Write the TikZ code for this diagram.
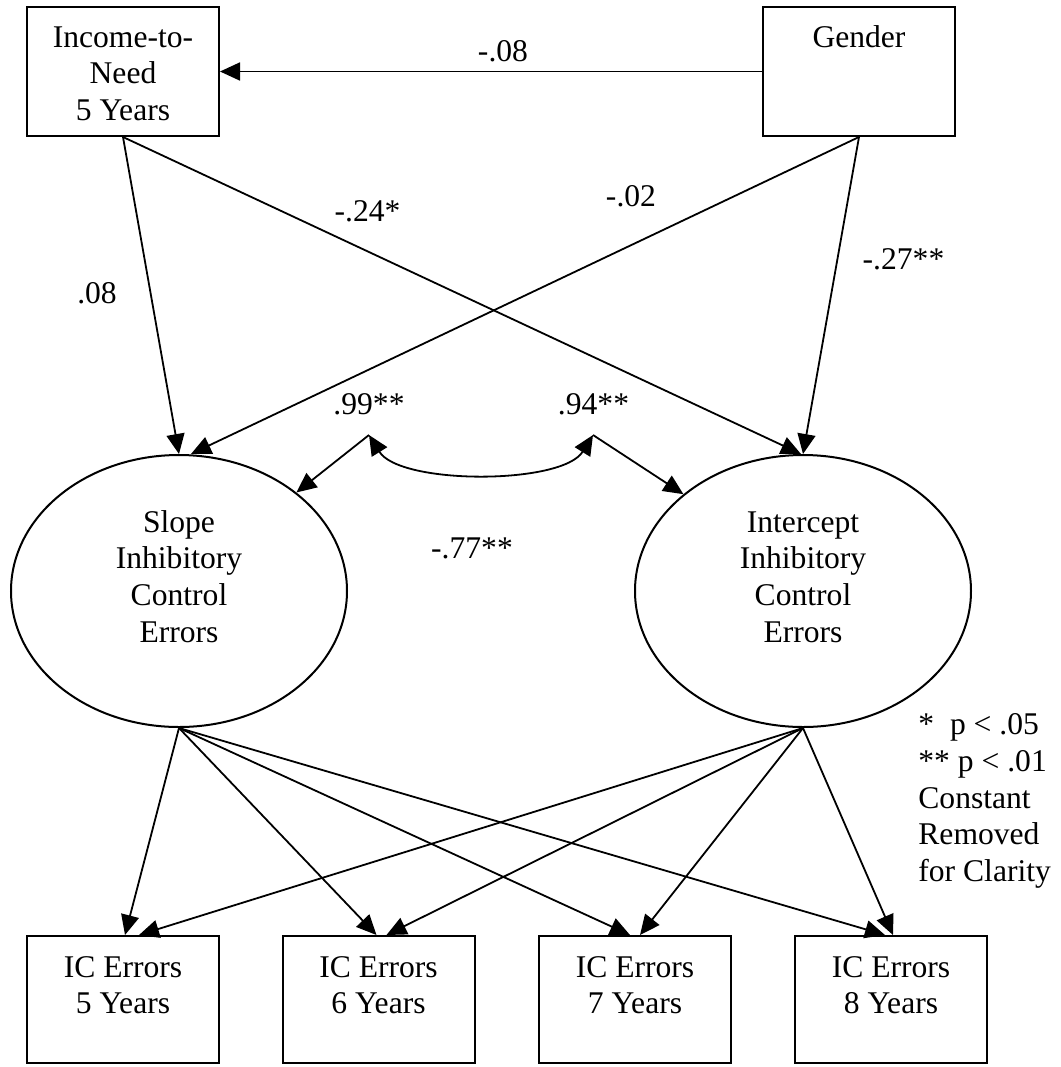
\documentclass[tikz,border=0pt]{standalone}
\usepackage{fontspec}
\setmainfont{Liberation Serif}
\usetikzlibrary{arrows.meta,shapes.geometric}
% text set from the top of a box of fixed height
\newcommand{\toptext}[3]{\parbox[c][#1][t]{96pt}{\centering\rule{0pt}{#2}#3}}

\begin{document}
\begin{tikzpicture}[x=0.5pt,y=-0.5pt,
  font=\fontsize{15.8}{18.4}\selectfont,
  >={Triangle[length=10pt,width=9pt]},
  box/.style={draw,line width=1pt,inner sep=0pt},
  latent/.style={draw,ellipse,line width=1pt,inner sep=0pt,minimum width=168pt,minimum height=136pt},
  link/.style={draw,line width=0.9pt,->},
  lbl/.style={inner sep=0pt}]
  \useasboundingbox (0,0) rectangle (1061,1067);

  %% predictors
  \node[box] (inc) at (123,71.5) {\toptext{64.5pt}{20pt}{Income-to-\\Need\\5 Years}};
  \node[box] (gen) at (859,71.5) {\toptext{64.5pt}{20pt}{Gender}};

  %% growth factors
  \node[latent] (slope) at (179,591) {\parbox[c][81pt][t]{80pt}{\centering\rule{0pt}{11pt}Slope\\Inhibitory\\Control\\Errors}};
  \node[latent] (inter) at (803,591) {\parbox[c][81pt][t]{80pt}{\centering\rule{0pt}{11pt}Intercept\\Inhibitory\\Control\\Errors}};

  %% indicators
  \node[box] (ic5) at (123,999.5) {\toptext{63.5pt}{20.5pt}{IC Errors\\5 Years}};
  \node[box] (ic6) at (378.5,999.5) {\toptext{63.5pt}{20.5pt}{IC Errors\\6 Years}};
  \node[box] (ic7) at (635,999.5) {\toptext{63.5pt}{20.5pt}{IC Errors\\7 Years}};
  \node[box] (ic8) at (891,999.5) {\toptext{63.5pt}{20.5pt}{IC Errors\\8 Years}};

  %% paths from predictors
  \draw[link] (gen) -- (inc);
  \draw[link] (inc.south) -- (slope.north);
  \draw[link] (inc.south) -- ([xshift=-1pt]inter.north);
  \draw[link] (gen.south) -- ([xshift=6pt]slope.north);
  \draw[link] (gen.south) -- (inter.north);
  \node[lbl] (cGenInc) at (503,51) {-.08};
  \node[lbl] (cIncSlp) at (97,293) {.08};
  \node[lbl] (cIncInt) at (367.5,211) {-.24*};
  \node[lbl] (cGenSlp) at (631,196) {-.02};
  \node[lbl] (cGenInt) at (903.5,259) {-.27**};

  %% variances and covariance
  \coordinate (v1) at (369,435);
  \coordinate (v2) at (593,435);
  \draw[link] (v1) -- (slope.40);
  \draw[link] (v2) -- (inter.141);
  \draw[link,<->] (v1) .. controls (400,485) and (562,485) .. (v2);
  \node[lbl] (cVarSlp) at (369,404) {.99**};
  \node[lbl] (cVarInt) at (593.5,404) {.94**};
  \node[lbl] (cCov) at (472,548) {-.77**};

  %% loadings
  \draw[link] (slope.south) -- ([xshift=1pt]ic5.north);
  \draw[link] (slope.south) -- ([xshift=-1pt]ic6.north);
  \draw[link] (slope.south) -- ([xshift=-2.5pt]ic7.north);
  \draw[link] (slope.south) -- ([xshift=-3pt]ic8.north);
  \draw[link] (inter.south) -- ([xshift=8pt]ic5.north);
  \draw[link] (inter.south) -- ([xshift=4pt]ic6.north);
  \draw[link] (inter.south) -- ([xshift=2.5pt]ic7.north);
  \draw[link] (inter.south) -- ([xshift=1pt]ic8.north);

  %% note
  \node[lbl,anchor=north west,align=left] (note) at (918,713) {*\ \ p < .05\\** p < .01\\Constant\\Removed\\for Clarity};
\end{tikzpicture}
\end{document}
